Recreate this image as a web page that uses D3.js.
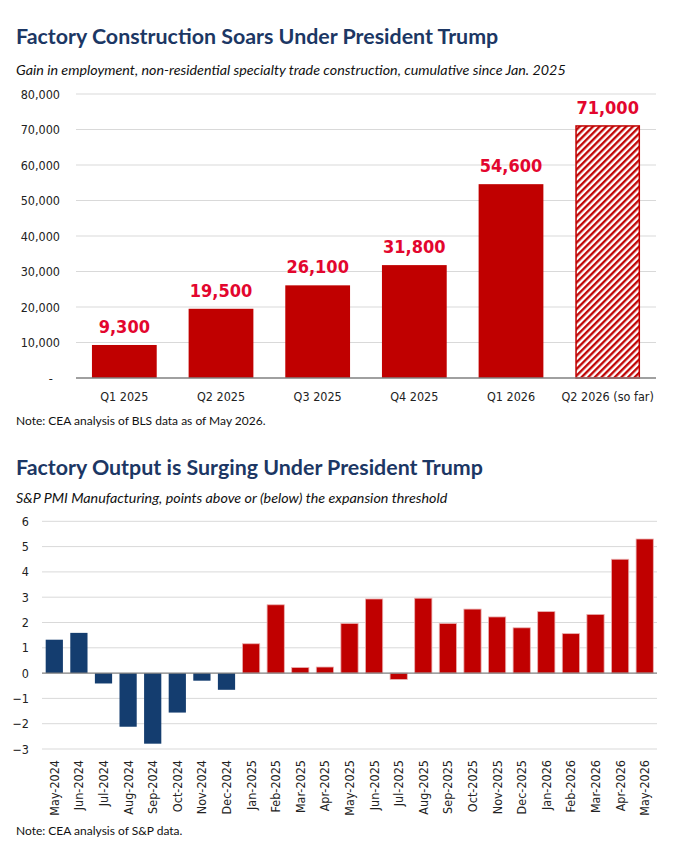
<!DOCTYPE html>
<html><head><meta charset="utf-8">
<script src="https://cdn.jsdelivr.net/npm/d3@7"></script>
<style>
html,body{margin:0;padding:0;background:#fff;}
svg{display:block;}
.cond{font-family:"DejaVu Sans Condensed","DejaVu Sans",sans-serif;font-stretch:condensed;}
.ttl{font-family:Lato,"Open Sans",sans-serif;font-weight:700;fill:#1c3764;}
.sub{font-family:Lato,"Open Sans",sans-serif;font-style:italic;fill:#111;}
.note{font-family:Lato,"Open Sans",sans-serif;fill:#111;}
</style></head>
<body>
<svg id="c" width="700" height="863"></svg>
<script>
// ---- Chart 1 data ----
const qCategories = ["Q1 2025","Q2 2025","Q3 2025","Q4 2025","Q1 2026","Q2 2026 (so far)"];
const qValues = [9300, 19500, 26100, 31800, 54600, 71000];
const qPartial = [false, false, false, false, false, true];
const qTicks = [0, 10000, 20000, 30000, 40000, 50000, 60000, 70000, 80000];

// ---- Chart 2 data ----
const months = ["May-2024","Jun-2024","Jul-2024","Aug-2024","Sep-2024","Oct-2024","Nov-2024","Dec-2024",
  "Jan-2025","Feb-2025","Mar-2025","Apr-2025","May-2025","Jun-2025","Jul-2025","Aug-2025","Sep-2025",
  "Oct-2025","Nov-2025","Dec-2025","Jan-2026","Feb-2026","Mar-2026","Apr-2026","May-2026"];
const pmiValues = [1.32, 1.59, -0.41, -2.12, -2.79, -1.56, -0.30, -0.66,
  1.16, 2.70, 0.22, 0.24, 1.96, 2.93, -0.25, 2.96, 1.96,
  2.53, 2.22, 1.79, 2.43, 1.56, 2.32, 4.50, 5.30];
const pmiTicks = [-3, -2, -1, 0, 1, 2, 3, 4, 5, 6];

const RED = "#c00000", BLUE = "#143d6f", LABEL_RED = "#e3062e";
const svg = d3.select("#c");

// defs: hatch
const defs = svg.append("defs");
const pat = defs.append("pattern").attr("id","hatch").attr("patternUnits","userSpaceOnUse")
  .attr("width",4.7).attr("height",4.7).attr("patternTransform","rotate(45)");
pat.append("rect").attr("width",4.7).attr("height",4.7).attr("fill","#fff");
pat.append("line").attr("x1",1.2).attr("x2",1.2).attr("y1",0).attr("y2",4.7)
  .attr("stroke",RED).attr("stroke-width",2.3);

// ===== Chart 1 =====
svg.append("text").attr("class","ttl").attr("x",16).attr("y",44).attr("font-size",21.4)
  .text("Factory Construction Soars Under President Trump");
svg.append("text").attr("class","sub").attr("x",16).attr("y",75).attr("font-size",14.3)
  .text("Gain in employment, non-residential specialty trade construction, cumulative since Jan. 2025");

const x1 = d3.scaleBand().domain(qCategories).range([76,656]).paddingInner(0.33).paddingOuter(0.165);
const y1 = d3.scaleLinear().domain([0,80000]).range([378,94]);

const g1 = svg.append("g");
g1.selectAll("line.grid").data(qTicks.filter(d=>d>0)).join("line")
  .attr("x1",76).attr("x2",656).attr("y1",d=>y1(d)).attr("y2",d=>y1(d))
  .attr("stroke","#d9d9d9").attr("stroke-width",1);

const yAxis1 = d3.axisLeft(y1).tickValues(qTicks).tickSize(0).tickPadding(0)
  .tickFormat(d => d===0 ? "-\u00A0\u00A0" : d3.format(",")(d));
const ya1 = g1.append("g").attr("transform","translate(60,0)").call(yAxis1);
ya1.select(".domain").remove();
ya1.selectAll("text").attr("class","cond").attr("font-size",12.5).attr("fill","#222");

g1.selectAll("rect.bar").data(qValues).join("rect")
  .attr("x",(d,i)=>x1(qCategories[i]) + (qPartial[i]?0.75:0))
  .attr("width",(d,i)=>x1.bandwidth() - (qPartial[i]?1.5:0))
  .attr("y",d=>y1(d))
  .attr("height",d=>y1(0)-y1(d))
  .attr("fill",(d,i)=>qPartial[i]?"url(#hatch)":RED)
  .attr("stroke",(d,i)=>qPartial[i]?RED:"none")
  .attr("stroke-width",1.5);

g1.append("line").attr("x1",76).attr("x2",656).attr("y1",y1(0)).attr("y2",y1(0))
  .attr("stroke","#808080").attr("stroke-width",1.3);

g1.selectAll("text.val").data(qValues).join("text")
  .attr("class","cond").attr("font-weight","bold").attr("font-size",18).attr("fill",LABEL_RED)
  .attr("text-anchor","middle")
  .attr("x",(d,i)=>x1(qCategories[i]) + x1.bandwidth()/2)
  .attr("y",d=>y1(d)-12)
  .text(d=>d3.format(",")(d));

const xAxis1 = d3.axisBottom(x1).tickSize(0).tickPadding(0);
const xa1 = g1.append("g").attr("transform","translate(0,392)").call(xAxis1);
xa1.select(".domain").remove();
xa1.selectAll("text").attr("class","cond").attr("font-size",12.5).attr("fill","#222")
  .attr("dy","0.71em");

svg.append("text").attr("class","note").attr("x",16).attr("y",425).attr("font-size",12)
  .text("Note: CEA analysis of BLS data as of May 2026.");

// ===== Chart 2 =====
svg.append("text").attr("class","ttl").attr("x",16).attr("y",475).attr("font-size",21.4)
  .text("Factory Output is Surging Under President Trump");
svg.append("text").attr("class","sub").attr("x",16).attr("y",503).attr("font-size",14.3)
  .text("S&P PMI Manufacturing, points above or (below) the expansion threshold");

const x2 = d3.scaleBand().domain(months).range([42,657]).paddingInner(0.3).paddingOuter(0.15);
const y2 = d3.scaleLinear().domain([-3,6]).range([749,521.3]);

const g2 = svg.append("g");
g2.selectAll("line.grid").data(pmiTicks.filter(d=>d!==0)).join("line")
  .attr("x1",42).attr("x2",657).attr("y1",d=>y2(d)).attr("y2",d=>y2(d))
  .attr("stroke","#d9d9d9").attr("stroke-width",1);

const yAxis2 = d3.axisLeft(y2).tickValues(pmiTicks).tickSize(0).tickPadding(0)
  .tickFormat(d3.format("d"));
const ya2 = g2.append("g").attr("transform","translate(29,0)").call(yAxis2);
ya2.select(".domain").remove();
ya2.selectAll("text").attr("class","cond").attr("font-size",12.5).attr("fill","#222");

g2.selectAll("rect.bar").data(pmiValues).join("rect")
  .attr("x",(d,i)=>x2(months[i]))
  .attr("width",x2.bandwidth())
  .attr("y",d=>y2(Math.max(0,d)))
  .attr("height",d=>Math.abs(y2(d)-y2(0)))
  .attr("fill",(d,i)=>months[i].endsWith("2024")?BLUE:RED)
  .attr("stroke",(d,i)=>months[i].endsWith("2024")?"none":"#eab0b0")
  .attr("stroke-width",0.8);

g2.append("line").attr("x1",42).attr("x2",657).attr("y1",y2(0)).attr("y2",y2(0))
  .attr("stroke","#808080").attr("stroke-width",1.3);

const xAxis2 = d3.axisBottom(x2).tickSize(0).tickPadding(0);
const xa2 = g2.append("g").attr("transform","translate(0,760)").call(xAxis2);
xa2.select(".domain").remove();
xa2.selectAll("text").attr("class","cond").attr("font-size",12.5).attr("fill","#222")
  .attr("text-anchor","end").attr("dy",null).attr("y",0)
  .attr("dominant-baseline","central")
  .attr("transform","rotate(-90)");

svg.append("text").attr("class","note").attr("x",16).attr("y",835).attr("font-size",12)
  .text("Note: CEA analysis of S&P data.");
</script>
</body></html>
